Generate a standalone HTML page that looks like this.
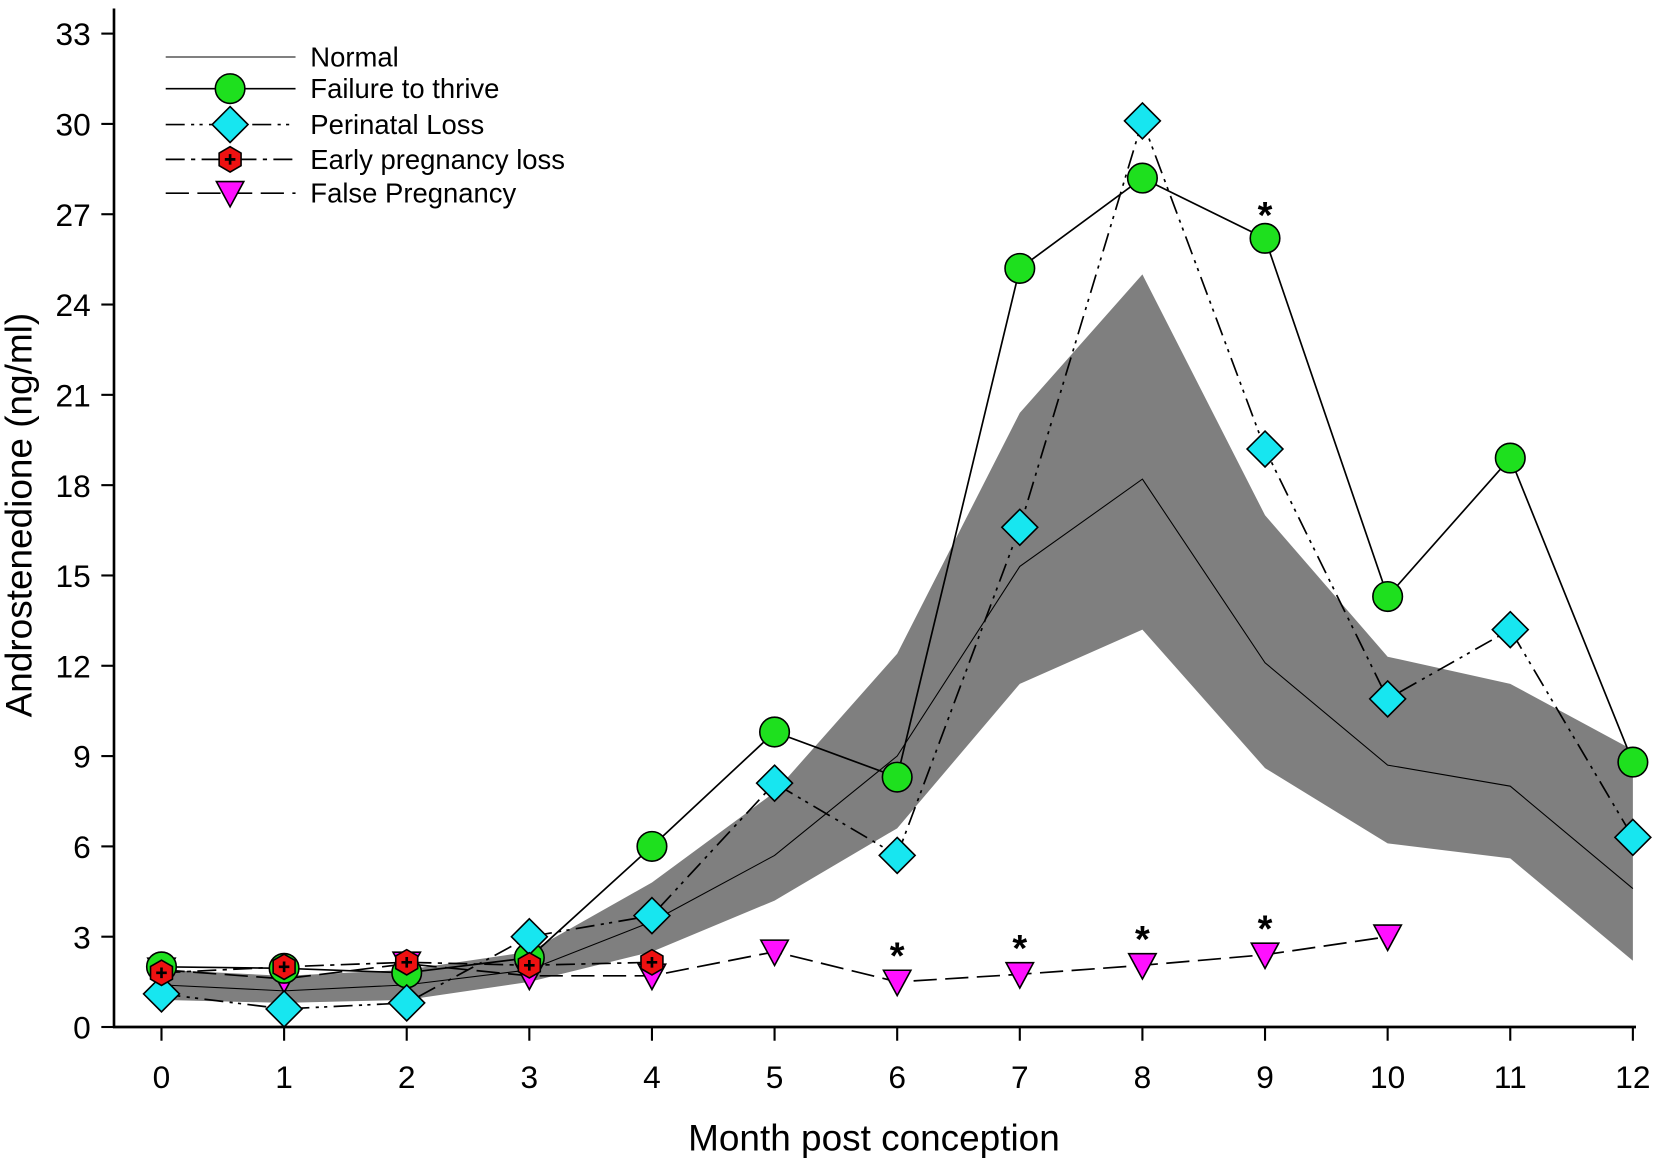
<!DOCTYPE html>
<html><head><meta charset="utf-8"><style>
html,body{margin:0;padding:0;background:#fff;}
svg text{font-family:"Liberation Sans",Arial,sans-serif;fill:#000;}
</style></head><body>
<svg id="chart" width="1655" height="1160" viewBox="0 0 1568 1099" preserveAspectRatio="none" xmlns="http://www.w3.org/2000/svg">
<g id="band"></g>
<g id="lines"></g>
<g id="marks"></g>
<g id="axes"></g>
<g id="legend"></g>
</svg>
<script>
const months=[0,1,2,3,4,5,6,7,8,9,10,11,12];
const normalMean=[1.4,1.2,1.4,1.9,3.5,5.7,9.0,15.3,18.2,12.1,8.7,8.0,4.6];
const normalUpper=[1.9,1.7,1.9,2.5,4.8,7.8,12.4,20.4,25.0,17.0,12.3,11.4,9.2];
const normalLower=[0.9,0.8,0.9,1.5,2.5,4.2,6.6,11.4,13.2,8.6,6.1,5.6,2.2];
const failureToThrive=[2.0,1.95,1.8,2.3,6.0,9.8,8.3,25.2,28.2,26.2,14.3,18.9,8.8];
const perinatalLoss=[1.1,0.6,0.8,3.0,3.7,8.1,5.7,16.6,30.1,19.2,10.9,13.2,6.3];
const earlyLoss=[1.8,2.0,2.15,2.05,2.15];
const falsePreg=[1.9,1.6,2.1,1.7,1.7,2.5,1.5,1.75,2.05,2.4,3.0];
const asteriskFalseMonths=[6,7,8,9];
const asteriskFTTMonths=[9];
const yTicks=[0,3,6,9,12,15,18,21,24,27,30,33];
const xTicks=[0,1,2,3,4,5,6,7,8,9,10,11,12];

const NS="http://www.w3.org/2000/svg";
const X=m=>153+m*116.17;
const Y=v=>973-v*28.52;
function el(tag,attrs,parent){const e=document.createElementNS(NS,tag);for(const k in attrs)e.setAttribute(k,attrs[k]);parent.appendChild(e);return e;}
const band=document.getElementById('band'),lines=document.getElementById('lines'),marks=document.getElementById('marks'),axes=document.getElementById('axes'),legend=document.getElementById('legend');

let pts=months.map((m,i)=>X(m)+','+Y(normalUpper[i]));
pts=pts.concat(months.slice().reverse().map((m,j)=>{const i=months.length-1-j;return X(m)+','+Y(normalLower[i]);}));
const bp=el('polygon',{points:pts.join(' '),fill:'#7f7f7f'},band);



function line(vals,dash,w,name){const p=el('polyline',{points:vals.map((v,i)=>X(months[i])+','+Y(v)).join(' '),fill:'none',stroke:'#000','stroke-width':w,'stroke-dasharray':dash},lines);

}
line(normalMean,'none',1,'normal-line');
line(falsePreg,'22,8',1.6,'false-pregnancy-line');
line(earlyLoss,'18,6,4,6',1.6,'early-loss-line');
line(perinatalLoss,'18,6,3,5,3,6',1.6,'perinatal-loss-line');
line(failureToThrive,'none',1.6,'failure-to-thrive-line');

function circle(cx,cy,g){return el('circle',{cx:cx,cy:cy,r:14,fill:'#1ee01e',stroke:'#000','stroke-width':1.5},g);}
function diamond(cx,cy,g){return el('polygon',{points:`${cx},${cy-17} ${cx+17},${cy} ${cx},${cy+17} ${cx-17},${cy}`,fill:'#17e6f0',stroke:'#000','stroke-width':1.5},g);}
function tri(cx,cy,g){return el('polygon',{points:`${cx-13},${cy-11} ${cx+13},${cy-11} ${cx},${cy+13}`,fill:'#ff10ff',stroke:'#000','stroke-width':1.5},g);}
function hex(cx,cy,g){const gg=el('g',{},g);let p=[];for(let k=0;k<6;k++){const a=Math.PI/6+k*Math.PI/3;p.push((cx+12*Math.cos(a))+','+(cy+12*Math.sin(a)));}
el('polygon',{points:p.join(' '),fill:'#ee1111',stroke:'#000','stroke-width':1.5},gg);
el('path',{d:`M${cx-5},${cy}H${cx+5}M${cx},${cy-5}V${cy+5}`,stroke:'#000','stroke-width':2.5},gg);return gg;}

falsePreg.forEach((v,i)=>{const m=tri(X(months[i]),Y(v),marks);});
failureToThrive.forEach((v,i)=>{const m=circle(X(months[i]),Y(v),marks);});
perinatalLoss.forEach((v,i)=>{const m=diamond(X(months[i]),Y(v),marks);});
earlyLoss.forEach((v,i)=>{const m=hex(X(months[i]),Y(v),marks);});

function star(m,v){const t=el('text',{x:X(m),y:Y(v)+16,'font-size':36,'font-weight':'bold','text-anchor':'middle'},marks);t.textContent='*';

}
asteriskFalseMonths.forEach(m=>star(m,falsePreg[m]+1.0));
asteriskFTTMonths.forEach(m=>star(m,failureToThrive[m]+0.9));

el('line',{x1:108,y1:8,x2:108,y2:974,stroke:'#000','stroke-width':2.5},axes);
el('line',{x1:107,y1:973,x2:1550,y2:973,stroke:'#000','stroke-width':2.5},axes);
yTicks.forEach(v=>{el('line',{x1:96,y1:Y(v),x2:108,y2:Y(v),stroke:'#000','stroke-width':2},axes);
const t=el('text',{x:86,y:Y(v)+11,'font-size':30,'text-anchor':'end'},axes);t.textContent=v;

});
xTicks.forEach(m=>{el('line',{x1:X(m),y1:973,x2:X(m),y2:986,stroke:'#000','stroke-width':2},axes);
const t=el('text',{x:X(m),y:1031,'font-size':30,'text-anchor':'middle'},axes);t.textContent=m;

});
const xt=el('text',{x:828,y:1090,'font-size':35,'text-anchor':'middle'},axes);xt.textContent='Month post conception';


const yt=el('text',{x:0,y:0,'font-size':35,'text-anchor':'middle',transform:'translate(30,488) rotate(-90)'},axes);yt.textContent='Androstenedione (ng/ml)';



const rows=[['Normal',54,'none',1,null],['Failure to thrive',84,'none',1.6,circle],['Perinatal Loss',118,'18,6,3,5,3,6',1.6,diamond],['Early pregnancy loss',151,'18,6,4,6',1.6,hex],['False Pregnancy',183,'22,8',1.6,tri]];
rows.forEach(r=>{const g=el('g',{},legend);


el('line',{x1:157,y1:r[1],x2:280,y2:r[1],stroke:'#000','stroke-width':r[3],'stroke-dasharray':r[2]},g);
if(r[4])r[4](218,r[1],g);
const t=el('text',{x:294,y:r[1]+9,'font-size':26},g);t.textContent=r[0];});
</script>
</body></html>
